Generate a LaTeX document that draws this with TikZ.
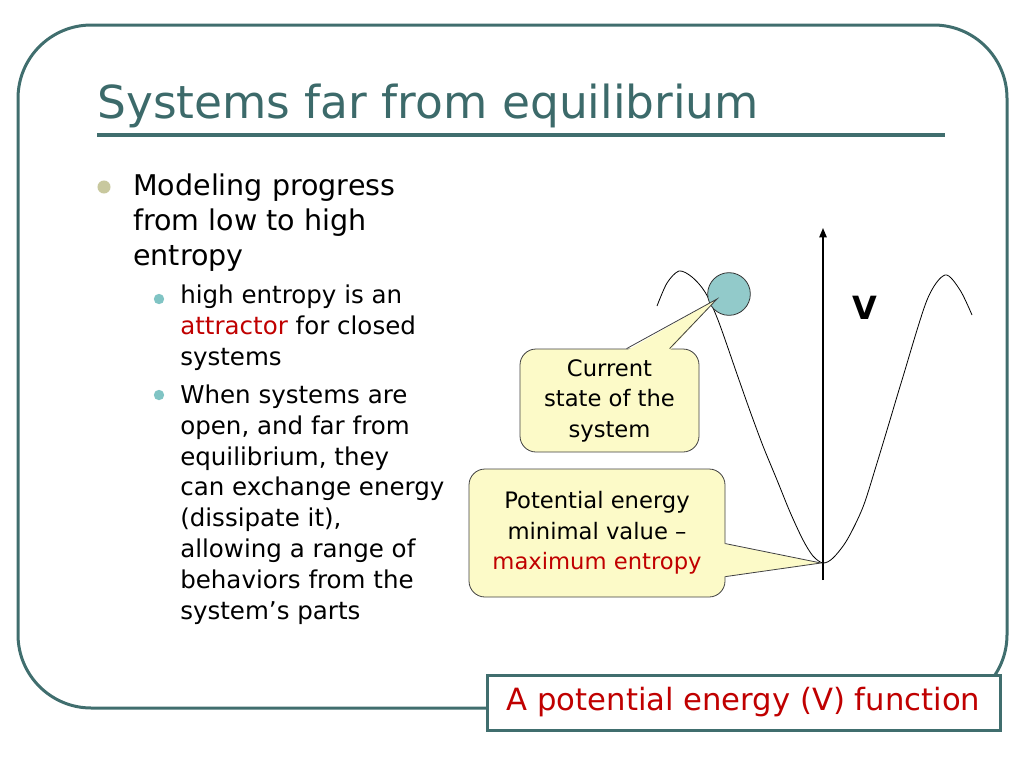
\documentclass[tikz,border=0pt]{standalone}
\usepackage{fontspec}
\setmainfont{DejaVu Sans}
\usetikzlibrary{arrows.meta,calc}

\definecolor{frameteal}{RGB}{64,110,110}
\definecolor{titleteal}{RGB}{60,106,106}
\definecolor{slidered}{RGB}{192,0,0}
\definecolor{dotkhaki}{RGB}{200,200,158}
\definecolor{dotteal}{RGB}{128,196,196}
\definecolor{ballfill}{RGB}{146,202,202}
\definecolor{notefill}{RGB}{252,250,200}

\begin{document}
\begin{tikzpicture}[x=0.75pt, y=-0.75pt,
    frame/.style={draw=frameteal, line width=2.25pt},
    mainitem/.style={anchor=base west, align=left, inner sep=0pt,
      font=\fontsize{21.4}{26.25}\selectfont},
    subitem/.style={anchor=base west, align=left, inner sep=0pt,
      font=\fontsize{18.4}{23.1}\selectfont},
    note/.style={draw=black!75, fill=notefill, line width=0.6pt,
      rounded corners=12pt, align=center, inner sep=0pt,
      font=\fontsize{17}{22.9}\selectfont},
    notetip/.style={fill=notefill},
    notelines/.style={draw=black!75, line width=0.6pt}]
  \useasboundingbox (0,0) rectangle (1024,768);

  	\draw[frame, rounded corners=55pt] (18,25) rectangle (1007,708);

  	\node (title) at (97,118) [anchor=base west, inner sep=0pt, text=titleteal,
  	  font=\fontsize{34.1}{40}\selectfont] {Systems far from equilibrium};
  	\draw[draw=frameteal, line width=3pt] (97,135) -- (945,135);

  	\fill[dotkhaki] (104,187) circle[radius=4.9pt];
  	\fill[dotteal] (159,299) circle[radius=3.9pt];
  	\fill[dotteal] (159,395) circle[radius=3.9pt];

  	% anchor base = baseline of the last line
  	\node (modeling) at (133,265) [mainitem] {Modeling progress\\from low to high\\entropy};
  	\node (closed) at (180,365) [subitem] {high entropy is an\\{\color{slidered}attractor} for closed\\systems};
  	\node (open) at (180,619) [subitem] {When systems are\\open, and far from\\equilibrium, they\\can exchange energy\\(dissipate it),\\allowing a range of\\behaviors from the\\system’s parts};

  \coordinate (axisbot) at (823,580);
  \coordinate (axistop) at (823,228);
  \coordinate (vmin) at (821,563);
  \draw[line width=1.1pt, -{Triangle[length=7pt, width=5.5pt]}] (axisbot) -- (axistop);

  	\draw[line width=0.6pt] plot[smooth, tension=0.5] coordinates {(657,306) (667,283) (679,271) (692,277) (705,292) (718,320) (738,377) (750,411) (763,446) (777,480) (790,512) (803,540) (813,556) (823,563) (833,558) (847,540) (863,507) (877,463) (890,420) (902,380) (927,300) (945,275) (960,290) (972,315)};

  \node (ball) at (729,294) [circle, draw=black!80, fill=ballfill, line width=0.6pt,
    minimum size=32pt, inner sep=0pt] {};
  \coordinate (balltip) at (717,299);

  \node (vlabel) at (865,319) [anchor=base, inner sep=0pt,
    font=\bfseries\fontsize{24}{28}\selectfont] {V};

  \node (current) at (609.5,400.5) [note, minimum width=134.25pt, minimum height=77.25pt]
    {Current\\state of the\\system};
  \fill[notetip] ($(current.north west)+(107,2)$) -- (balltip) -- ($(current.north west)+(150,2)$) -- cycle;
  \draw[notelines] ($(current.north west)+(107,0)$) -- (balltip) -- ($(current.north west)+(150,0)$);

  \node (minimum) at (597,533) [note, minimum width=192pt, minimum height=96pt]
    {Potential energy\\minimal value --\\{\color{slidered}maximum entropy}};
  \fill[notetip] ($(minimum.north east)+(-2,75)$) -- (vmin) -- ($(minimum.north east)+(-2,108)$) -- cycle;
  \draw[notelines] ($(minimum.north east)+(0,75)$) -- (vmin) -- ($(minimum.north east)+(0,108)$);

  \node (caption) at (743.5,702.5) [draw=frameteal, fill=white, line width=2.25pt,
    minimum width=384.75pt, minimum height=41.25pt, inner sep=0pt, text=slidered,
    font=\fontsize{23}{27}\selectfont] {A potential energy (V) function};
\end{tikzpicture}
\end{document}
